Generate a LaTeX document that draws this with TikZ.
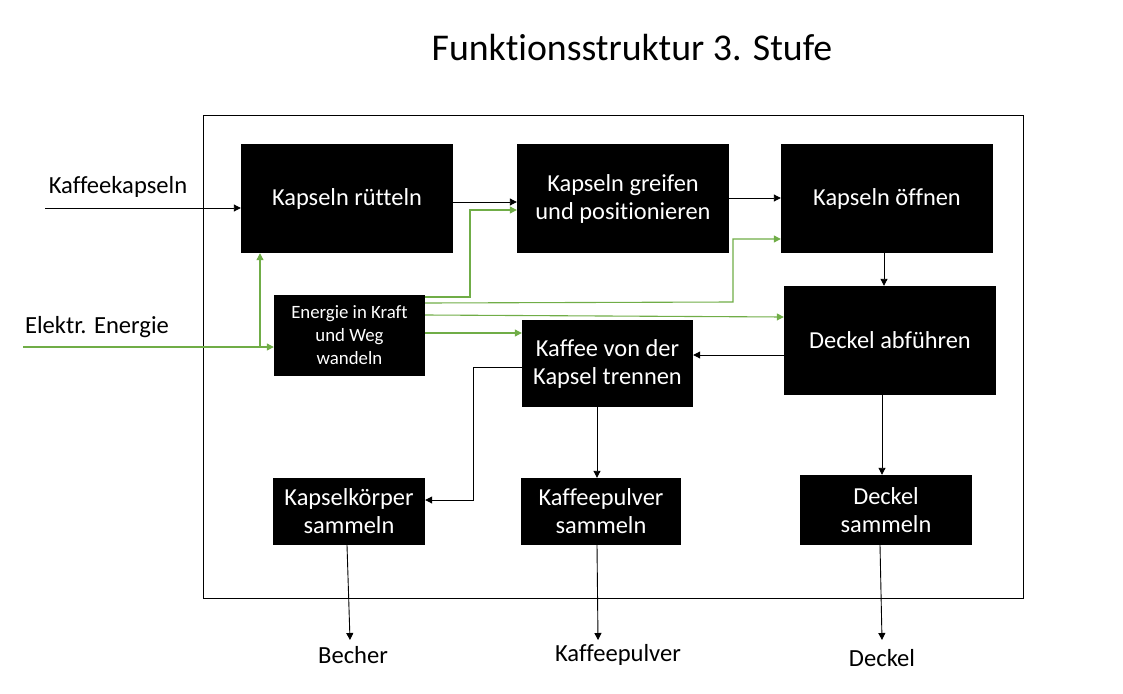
\documentclass[tikz,border=0pt]{standalone}
\usepackage{fontspec}
\setmainfont{Carlito}[Ligatures=NoCommon]
\usetikzlibrary{arrows.meta,calc}
\definecolor{energy}{HTML}{70AD47}
\begin{document}
\begin{tikzpicture}[x=1pt,y=-1pt,
  fbox/.style={fill=black,text=white,inner sep=0pt,align=center,font=\fontsize{24.4}{28}\selectfont},
  label/.style={inner sep=0pt,font=\fontsize{24.6}{28}\selectfont},
  arr/.style={line width=0.9pt,-{Triangle[length=7pt,width=7pt]}},
  garr/.style={arr,draw=energy,line width=1.1pt},
  gline/.style={draw=energy,line width=1.1pt}]
\useasboundingbox (0,0) rectangle (1123,693);
% title and system border
\node[font=\fontsize{37.8}{42}\selectfont] (title) at (632,48) {Funktionsstruktur 3. Stufe};
\draw[line width=1pt] (203,115) rectangle (1023,598);
% function blocks
\node[fbox,minimum width=212pt,minimum height=109pt] (ruetteln) at (347,198.5) {Kapseln rütteln};
\node[fbox,minimum width=212pt,minimum height=109pt] (greifen) at (623,198.5) {Kapseln greifen\\und positionieren};
\node[fbox,minimum width=212pt,minimum height=109pt] (oeffnen) at (887,198.5) {Kapseln öffnen};
\node[fbox,minimum width=151pt,minimum height=81pt,font=\fontsize{18.8}{23}\selectfont] (wandeln) at (349.5,335.5) {Energie in Kraft\\und Weg\\wandeln};
\node[fbox,minimum width=212pt,minimum height=109pt] (abfuehren) at (890,340.5) {Deckel abführen};
\node[fbox,minimum width=171pt,minimum height=87pt] (trennen) at (607.5,363.5) {Kaffee von der\\Kapsel trennen};
\node[fbox,minimum width=152pt,minimum height=67pt] (koerper) at (349,511.5) {Kapselkörper\\sammeln};
\node[fbox,minimum width=160pt,minimum height=67pt] (pulver) at (601,511.5) {Kaffeepulver\\sammeln};
\node[fbox,minimum width=172pt,minimum height=70pt] (deckel) at (886,510) {Deckel\\sammeln};
% inputs and outputs
\node[label] (kapseln) at (118,187) {Kaffeekapseln};
\node[label] (strom) at (97,327) {Elektr. Energie};
\node[label] (becher) at (353,655) {Becher};
\node[label] (kpulver) at (618,655) {Kaffeepulver};
\node[label] (deckelout) at (882,658) {Deckel};
\coordinate (kin) at (45,208);
\coordinate (ein) at (23,347);
\coordinate (branch) at (260,347);
\coordinate (becherin) at (350,640);
\coordinate (kpulverin) at (598,640);
\coordinate (deckelin) at (882,640);
% material flow
\draw[arr] (kin) -- (ruetteln.west|-kin);
\draw[arr] (ruetteln.east|-0,202) -- (greifen.west|-0,202);
\draw[arr] (greifen.east|-0,198) -- (oeffnen.west|-0,198);
\draw[arr] (oeffnen.south-|884,0) -- (abfuehren.north-|884,0);
\draw[arr] (abfuehren.west|-0,355) -- (trennen.east|-0,355);
\draw[arr] (trennen.west|-0,367) -| (473,500) -- (koerper.east|-0,500);
\draw[arr] (trennen.south-|597,0) -- (pulver.north-|597,0);
\draw[arr] (abfuehren.south-|882,0) -- (deckel.north-|882,0);
\draw[arr] (koerper.south-|347,0) -- (becherin);
\draw[arr] (pulver.south-|597,0) -- (kpulverin);
\draw[arr] (deckel.south-|880,0) -- (deckelin);
% energy flow
\draw[garr] (ein) -- (wandeln.west|-ein);
\draw[garr] (branch) -- (ruetteln.south-|branch);
\draw[garr] (wandeln.east|-0,297) -| (470,210) -- (greifen.west|-0,210);
\draw[garr] (wandeln.east|-0,303) -- (733,302) |- (oeffnen.west|-0,239);
\draw[garr] (wandeln.east|-0,315) -- (abfuehren.west|-0,317);
\draw[garr] (wandeln.east|-0,333) -- (trennen.west|-0,333);
\end{tikzpicture}
\end{document}
